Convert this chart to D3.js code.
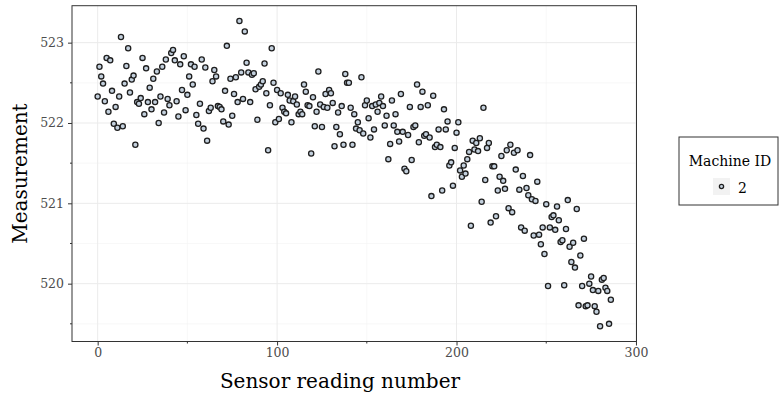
<!DOCTYPE html>
<html>
<head>
<meta charset="utf-8">
<script src="https://cdn.jsdelivr.net/npm/d3@7"></script>
<style>
  html, body { margin: 0; padding: 0; background: #ffffff; }
  svg { display: block; }
</style>
</head>
<body>
<svg id="chart" width="779" height="400"></svg>
<script>
// Measurements from machine 2, one per sensor reading (reading number = index)
const machineIds = ["2"];
const measurements = [
  522.33, 522.70, 522.58, 522.49, 522.27, 522.81, 522.14, 522.78, 522.40, 521.99,
  522.20, 521.94, 522.33, 523.07, 521.96, 522.49, 522.71, 522.93, 522.38, 522.54,
  522.59, 521.73, 522.26, 522.24, 522.31, 522.81, 522.11, 522.68, 522.26, 522.44,
  522.17, 522.55, 522.26, 522.64, 522.00, 522.33, 522.70, 522.13, 522.79, 522.30,
  522.22, 522.87, 522.91, 522.78, 522.27, 522.08, 522.73, 522.41, 522.83, 522.16,
  522.35,
  522.58, 522.73, 522.48, 522.70, 522.10, 521.99, 522.24, 522.79, 521.93,
  522.69, 521.78, 522.15, 522.19, 522.52, 522.66, 522.58, 522.21, 522.20, 522.17,
  522.02, 522.40, 522.96, 521.98, 522.55, 522.09, 522.36, 522.57, 522.26, 523.27,
  522.63, 522.30, 523.14, 522.75, 522.63, 522.26, 522.60, 522.62, 522.42, 522.04,
  522.45, 522.48, 522.52, 522.74, 522.37, 521.66, 522.22, 522.93, 522.50, 522.01,
  522.41, 522.05,
  522.37, 522.19, 522.14, 522.12, 522.35, 522.28, 522.01, 522.27, 522.33, 522.23,
  522.11, 522.14, 522.11, 522.48, 522.39, 522.22, 522.21, 521.62, 522.32, 521.96,
  522.14, 522.64, 522.23, 521.95, 522.20, 522.36, 522.19, 522.41, 522.37, 522.25,
  521.71, 521.95, 522.13, 521.86, 522.21, 521.73, 522.61, 522.50, 522.50, 522.19,
  521.73, 522.11, 521.93, 522.01, 521.91, 522.57, 521.87, 522.22, 522.28, 522.06,
  521.82, 522.21, 521.92,
  522.23, 522.14, 522.25, 522.33, 522.21, 521.97, 522.09, 521.55, 521.74,
  522.28, 521.97, 522.11, 521.89, 521.77, 522.36, 521.89, 521.43, 521.40, 521.85,
  522.20, 521.54, 521.95, 521.97, 522.48, 521.76, 522.20, 522.39, 521.84, 521.86,
  522.22, 521.82, 521.09, 522.34, 521.70, 521.73, 521.92, 521.70, 521.16, 522.17,
  521.92, 522.02, 521.47, 521.51, 521.22, 521.69, 521.88, 522.01, 521.41, 521.33,
  521.47, 521.37, 521.55, 521.64,
  520.72, 521.78, 521.67, 521.75, 521.65, 521.81, 521.02, 522.19, 521.29, 521.69,
  521.75, 520.76, 521.46, 521.46, 520.84, 521.16, 521.33, 521.59, 521.28, 521.18,
  521.66, 520.94, 521.73, 520.89, 521.63, 521.42, 521.66, 521.17, 520.70, 521.34,
  520.66, 521.19, 521.10, 521.60, 521.05, 520.60, 521.03, 521.27, 520.61, 520.49,
  520.70, 520.37, 520.99, 519.97, 520.70, 520.83, 520.85, 520.67, 520.96, 520.79,
  520.52, 520.54, 519.98, 520.68, 521.04, 520.46, 520.27, 520.51, 520.20, 520.93,
  519.73, 520.35, 519.97, 520.56, 519.72, 519.73, 520.00, 520.09, 519.92, 519.72,
  519.65, 519.91, 519.47, 520.05, 520.07, 519.95, 519.91, 519.50, 519.80
];
const xMajorTicks = [0, 100, 200, 300];
const xMinorTicks = [50, 150, 250];
const yMajorTicks = [520, 521, 522, 523];
const yMinorTicks = [519.5, 520.5, 521.5, 522.5];
const xTitle = "Sensor reading number";
const yTitle = "Measurement";
const legendTitle = "Machine ID";

const points = measurements.map((v, i) => ({ reading: i, value: v }));

const svg = d3.select("#chart");
const panel = { left: 72, right: 636.5, top: 5.7, bottom: 341.5 };
const serif = "'DejaVu Serif', serif";

// continuous scales padded by 5% of the data range on each side
function padded(ext) {
  const r = ext[1] - ext[0];
  return [ext[0] - 0.05 * r, ext[1] + 0.05 * r];
}
const x = d3.scaleLinear()
  .domain(padded(d3.extent(points, d => d.reading)))
  .range([panel.left, panel.right]);
const y = d3.scaleLinear()
  .domain(padded(d3.extent(points, d => d.value)))
  .range([panel.bottom, panel.top]);

// panel background and grid
svg.append("rect")
  .attr("x", panel.left).attr("y", panel.top)
  .attr("width", panel.right - panel.left).attr("height", panel.bottom - panel.top)
  .attr("fill", "#ffffff");

const grid = svg.append("g");
grid.selectAll(".xminor").data(xMinorTicks).join("line")
  .attr("x1", d => x(d)).attr("x2", d => x(d))
  .attr("y1", panel.top).attr("y2", panel.bottom)
  .attr("stroke", "#f4f4f4").attr("stroke-width", 0.6);
grid.selectAll(".yminor").data(yMinorTicks).join("line")
  .attr("y1", d => y(d)).attr("y2", d => y(d))
  .attr("x1", panel.left).attr("x2", panel.right)
  .attr("stroke", "#f4f4f4").attr("stroke-width", 0.6);
grid.selectAll(".xmajor").data(xMajorTicks).join("line")
  .attr("x1", d => x(d)).attr("x2", d => x(d))
  .attr("y1", panel.top).attr("y2", panel.bottom)
  .attr("stroke", "#ebebeb").attr("stroke-width", 1);
grid.selectAll(".ymajor").data(yMajorTicks).join("line")
  .attr("y1", d => y(d)).attr("y2", d => y(d))
  .attr("x1", panel.left).attr("x2", panel.right)
  .attr("stroke", "#ebebeb").attr("stroke-width", 1);

// points
svg.append("g").selectAll("circle").data(points).join("circle")
  .attr("cx", d => x(d.reading))
  .attr("cy", d => y(d.value))
  .attr("r", 2.6)
  .attr("fill", "#c3d0dd")
  .attr("stroke", "#1e1e1e")
  .attr("stroke-width", 1.3);

// panel border
svg.append("rect")
  .attr("x", panel.left).attr("y", panel.top)
  .attr("width", panel.right - panel.left).attr("height", panel.bottom - panel.top)
  .attr("fill", "none").attr("stroke", "#333333").attr("stroke-width", 1);

// axes
const xAxis = svg.append("g")
  .attr("transform", `translate(0,${panel.bottom})`)
  .call(d3.axisBottom(x).tickValues(xMajorTicks).tickSize(4).tickPadding(3).tickFormat(d3.format("d")));
const yAxis = svg.append("g")
  .attr("transform", `translate(${panel.left},0)`)
  .call(d3.axisLeft(y).tickValues(yMajorTicks).tickSize(4).tickPadding(4).tickFormat(d3.format("d")));
[xAxis, yAxis].forEach(g => {
  g.select(".domain").remove();
  g.selectAll(".tick line").attr("stroke", "#333333").attr("stroke-width", 1);
  g.selectAll(".tick text")
    .attr("fill", "#4d4d4d")
    .style("font-family", serif)
    .style("font-size", "12.5px");
});
// minor tick marks
svg.append("g").selectAll("line").data(xMinorTicks).join("line")
  .attr("x1", d => x(d)).attr("x2", d => x(d))
  .attr("y1", panel.bottom).attr("y2", panel.bottom + 2)
  .attr("stroke", "#333333");
svg.append("g").selectAll("line").data(yMinorTicks).join("line")
  .attr("y1", d => y(d)).attr("y2", d => y(d))
  .attr("x1", panel.left - 2).attr("x2", panel.left)
  .attr("stroke", "#333333");

// axis titles
svg.append("text")
  .attr("x", 340).attr("y", 388)
  .attr("text-anchor", "middle")
  .style("font-family", serif).style("font-size", "20px").attr("fill", "#000")
  .text(xTitle);
svg.append("text")
  .attr("transform", `translate(27,${(panel.top + panel.bottom) / 2}) rotate(-90)`)
  .attr("text-anchor", "middle")
  .style("font-family", serif).style("font-size", "20px").attr("fill", "#000")
  .text(yTitle);

// legend
const legend = svg.append("g").attr("transform", "translate(679,137)");
legend.append("rect")
  .attr("x", 0).attr("y", 0).attr("width", 99).attr("height", 68)
  .attr("fill", "#ffffff").attr("stroke", "#333333").attr("stroke-width", 1);
legend.append("text")
  .attr("x", 51).attr("y", 29)
  .attr("text-anchor", "middle")
  .style("font-family", serif).style("font-size", "14px").attr("fill", "#000")
  .text(legendTitle);
const key = legend.selectAll(".key").data(machineIds).join("g")
  .attr("transform", (d, i) => `translate(34,${41 + i * 17})`);
key.append("rect")
  .attr("width", 17).attr("height", 17)
  .attr("fill", "#f2f2f2");
key.append("circle")
  .attr("cx", 8.5).attr("cy", 8.5).attr("r", 2.1)
  .attr("fill", "#c3d0dd").attr("stroke", "#1e1e1e").attr("stroke-width", 1.3);
key.append("text")
  .attr("x", 25).attr("y", 15)
  .style("font-family", serif).style("font-size", "14px").attr("fill", "#000")
  .text(d => d);
</script>
</body>
</html>
